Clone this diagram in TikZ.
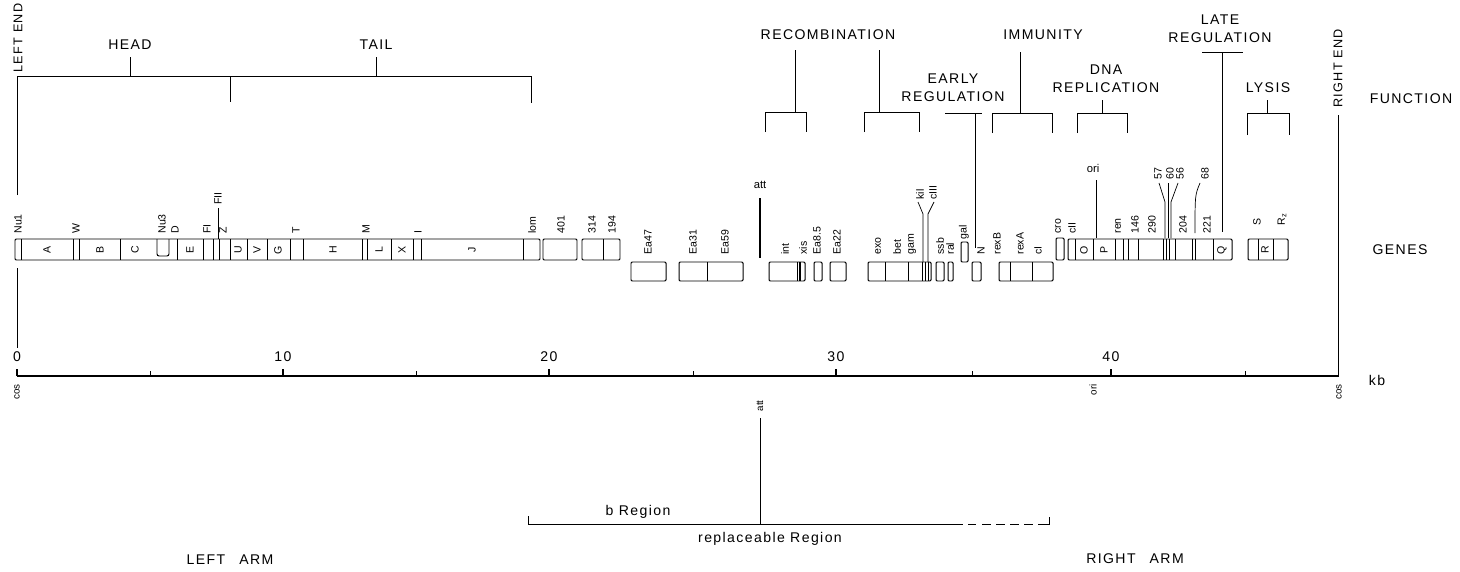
\documentclass[tikz,border=0pt]{standalone}
\usepackage{fontspec}
\setmainfont{Liberation Sans}
\newfontfamily\spaced{Liberation Sans}[LetterSpace=10]
\begin{document}
\begin{tikzpicture}[x=0.025cm,y=-0.025cm,line width=0.7pt,
  fn/.style={font=\fontsize{10}{12.5}\selectfont\spaced,align=center,inner sep=0pt},
  endlab/.style={rotate=90,anchor=west,font=\fontsize{9}{10}\selectfont\spaced,inner sep=0pt},
  glab/.style={rotate=90,anchor=west,font=\fontsize{7.5}{8}\selectfont,inner sep=0pt},
  blab/.style={rotate=90,font=\fontsize{7.5}{8}\selectfont,inner sep=0pt},
  mlab/.style={rotate=90,anchor=east,font=\fontsize{7}{8}\selectfont,inner sep=0pt},
  genebox/.style={draw,rounded corners=0.8pt}]
  \useasboundingbox (0,0) rectangle (1460,572);
  % Ends
  \node[endlab] (leftend) at (18,73) {LEFT END};
  \node[endlab] (rightend) at (1338,108) {RIGHT END};
  \draw (17,195) -- (17,76);
  \draw (17,268) -- (17,348);
  \draw (1338,115) -- (1338,376);
  \node[fn] (function) at (1411,99) {FUNCTION};
  \node[fn] (genes) at (1400,250) {GENES};
  % Head and tail
  \node[fn] (head) at (130,45) {HEAD};
  \node[fn] (tail) at (376,45) {TAIL};
  \draw (17,76) -- (531,76) -- (531,103);
  \draw (head) ++(0,12) -- ++(0,19);
  \draw (tail) ++(0,12) -- ++(0,19);
  \draw (230,76) -- (230,102);
  % Recombination
  \node[fn] (recomb) at (828,35) {RECOMBINATION};
  \draw (795,50) -- (795,112);
  \draw (765,132) -- (765,112) -- (806,112) -- (806,132);
  \draw (879,50) -- (879,112);
  \draw (864,132) -- (864,112) -- (919,112) -- (919,132);
  % Early regulation
  \node[fn] (earlyreg) at (953,88) {EARLY\\REGULATION};
  \draw (945,113) -- (982,113);
  \draw (975,113) -- (975,248);
  % Immunity
  \node[fn] (immunity) at (1043,35) {IMMUNITY};
  \draw (1020,52) -- (1020,113);
  \draw (992,133) -- (992,113) -- (1052,113) -- (1052,133);
  % DNA replication
  \node[fn] (dnarep) at (1106,79) {DNA\\REPLICATION};
  \draw (1102,100) -- (1102,113);
  \draw (1077,133) -- (1077,113) -- (1127,113) -- (1127,133);
  % Late regulation
  \node[fn] (latereg) at (1220,29) {LATE\\REGULATION};
  \draw (1202,52) -- (1243,52);
  \draw (1222,52) -- (1222,232);
  % Lysis
  \node[fn] (lysis) at (1268,88) {LYSIS};
  \draw (1267,100) -- (1267,113);
  \draw (1247,135) -- (1247,113) -- (1289,113) -- (1289,135);

  % Genes, left arm
  \draw[genebox] (15,239) rectangle (540,260);
  \foreach \x in {21,73,79,120,177,203,213,219,230,247,267,290,303,362,367,391,413,421,523}
    \draw (\x,239) -- (\x,260);
  \draw[rounded corners=1.5pt] (157,239) -- (157,256) -- (169,256) -- (169,239);
  \foreach \x/\t in {47/A,100/B,135/C,190/E,238/U,257/V,278/G,333/H,379/L,402/X,472/J}
    \node[blab] (box\t) at (\x,250) {\t};
  \foreach \x/\t/\n in {18/Nu1/nua,76/W/w,162/Nu3/nuc,175/D/d,207/FI/fi,223/Z/z,296/T/t,366/M/m,418/I/i,532/lom/lom,561/401/ca,592/314/cb,612/194/cc}
    \node[glab] (\n) at (\x,234) {\t};
  \node[glab] (fii) at (218,205) {FII};
  \draw[line width=0.4pt] (218,208) -- (218,239);
  \draw[genebox] (543,239) rectangle (577,260);
  \draw[genebox] (582,239) rectangle (620,260);
  \draw (603,239) -- (603,260);

  % Genes, b region
  \draw[genebox] (631,262) rectangle (666,281);
  \draw[genebox] (679,262) rectangle (743,281);
  \draw (707,262) -- (707,281);
  \node[fn,font=\fontsize{8}{9}\selectfont] (att) at (760,185) {att};
  \draw[line width=1.3pt] (760,198) -- (760,258);
  \draw[genebox] (769,262) rectangle (805,281);
  \draw (797,262) -- (797,281);
  \draw[line width=1.2pt] (800,262) -- (800,281);
  \draw[genebox] (814,262) rectangle (822,281);
  \draw[genebox] (830,262) rectangle (846,281);
  \draw[genebox] (868,262) rectangle (931,281);
  \foreach \x in {885,908,922,925,928}
    \draw (\x,262) -- (\x,281);
  \draw[genebox] (936,262) rectangle (944,281);
  \draw[genebox] (948,262) rectangle (953,281);
  \draw[genebox] (961,242) rectangle (968,262);
  \draw[genebox] (972,262) rectangle (981,281);
  \draw[genebox] (999,262) rectangle (1053,281);
  \draw (1010,262) -- (1010,281);
  \draw (1032,262) -- (1032,281);
  \foreach \x/\t/\n in {648/Ea47/eaa,693/Ea31/eab,725/Ea59/eac,785/int/int,803/xis/xis,817/Ea8.5/ead,837/Ea22/eae,878/exo/exo,897/bet/bet,912/gam/gam,940/ssb/ssb,950/ral/ral,981/N/n,997/rexB/rexb,1020/rexA/rexa,1038/cI/ci}
    \node[glab] (\n) at (\x,255) {\t};
  \node[glab] (gal) at (964,240) {gal};
  \node[glab] (kil) at (920,200) {kil};
  \node[glab] (ciii) at (933,200) {cIII};
  \draw[line width=0.5pt] (918,202) -- (923,214) -- (923,262);
  \draw[line width=0.5pt] (934,202) -- (928,214) -- (928,262);

  % Genes, right arm
  \draw[genebox] (1056,238) rectangle (1064,260);
  \draw[genebox] (1068,239) rectangle (1232,260);
  \foreach \x in {1075,1093,1115,1123,1128,1138,1163,1166,1169,1175,1192,1195,1213}
    \draw (\x,239) -- (\x,260);
  \foreach \x/\t in {1084/O,1104/P,1222/Q,1265/R}
    \node[blab] (box\t) at (\x,250) {\t};
  \draw[genebox] (1248,239) rectangle (1288,260);
  \draw (1258,239) -- (1258,260);
  \draw (1273,239) -- (1273,260);
  \foreach \x/\t/\n in {1058/cro/cro,1072/cII/cii,1118/ren/ren,1135/146/da,1152/290/db,1183/204/dc,1207/221/dd}
    \node[glab] (\n) at (\x,234) {\t};
  \foreach \x/\t/\n in {1158/57/ea,1170/60/eb,1180/56/ec,1205/68/ed}
    \node[glab] (\n) at (\x,180) {\t};
  \node[glab] (s) at (1257,226) {S};
  \node[glab] (rz) at (1282,226) {R\textsubscript{z}};
  \node[fn,font=\fontsize{8}{9}\selectfont] (ori) at (1093,168) {ori};
  \draw[line width=0.5pt] (1096,180) -- (1096,238);
  \draw[line width=0.5pt] (1159,183) -- (1165,202) -- (1165,238);
  \draw[line width=0.5pt] (1168,183) -- (1168,238);
  \draw[line width=0.5pt] (1178,183) -- (1171,202) -- (1171,238);
  \draw[line width=0.5pt] (1200,183) .. controls (1195,195) .. (1195,233);

  % Scale in kb
  \draw[line width=1pt] (17,376) -- (1339,376);
  \foreach \x/\t in {17/0,283/10,549/20,836/30,1111/40} {
    \draw[line width=1pt] (\x,376) -- (\x,369);
    \node[fn] (kb\t) at (\x,357) {\t};
  }
  \foreach \x in {150,416,693,972,1245}
    \draw (\x,376) -- (\x,371);
  \node[fn] (kb) at (1377,380) {kb};
  \node[mlab] (cosl) at (17,384) {cos};
  \node[mlab] (attb) at (760,400) {att};
  \node[mlab] (orib) at (1093,384) {ori};
  \node[mlab] (cosr) at (1339,384) {cos};

  % b region
  \draw (760,418) -- (760,524);
  \draw (528,516) -- (528,524) -- (963,524);
  \draw[dashed,dash pattern=on 6pt off 4pt] (968,524) -- (1045,524);
  \draw (1045,524) -- (1049,524) -- (1049,517);
  \node[fn] (bregion) at (638,512) {b Region};
  \node[fn] (replace) at (770,539) {replaceable Region};
  \node[fn] (leftarm) at (230,560) {LEFT\quad ARM};
  \node[fn] (rightarm) at (1135,559) {RIGHT\quad ARM};
\end{tikzpicture}
\end{document}
